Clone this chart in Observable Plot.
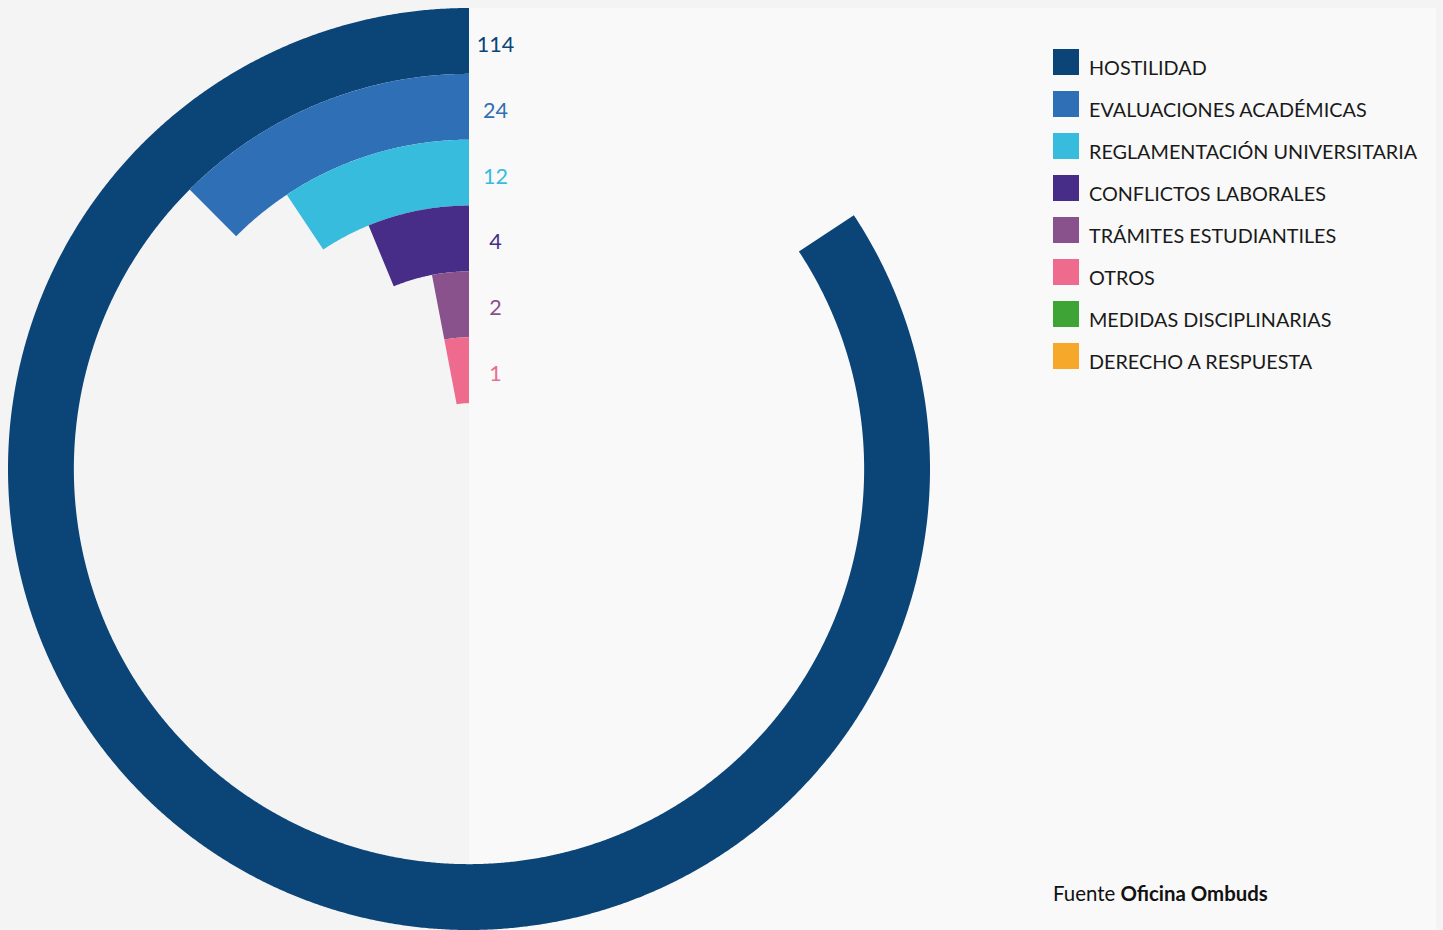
<!DOCTYPE html>
<html>
<head>
<meta charset="utf-8">
<script src="https://cdn.jsdelivr.net/npm/d3@7"></script>
<script src="https://cdn.jsdelivr.net/npm/@observablehq/plot@0.6"></script>
<style>
  html, body { margin: 0; padding: 0; width: 1443px; height: 930px; overflow: hidden; background: #f4f4f4; font-family: Lato, "Noto Sans", sans-serif; }
  #panel { position: absolute; left: 469px; top: 8px; width: 967px; height: 922px; background: #f9f9f9; }
  #chart { position: absolute; left: 8px; top: 8px; }
  #side { position: absolute; left: 1040px; top: 0px; }
</style>
</head>
<body>
<div id="panel"></div>
<div id="chart"></div>
<div id="side"></div>
<script>
// ---- data ----
const categories = ["HOSTILIDAD", "EVALUACIONES ACADÉMICAS", "REGLAMENTACIÓN UNIVERSITARIA", "CONFLICTOS LABORALES", "TRÁMITES ESTUDIANTILES", "OTROS", "MEDIDAS DISCIPLINARIAS", "DERECHO A RESPUESTA"];
const values = [114, 24, 12, 4, 2, 1, 0, 0];
// arc extent of each bar as drawn in the original (degrees, counter-clockwise from 12 o'clock)
const sweepDegrees = [303.4, 45, 33.6, 22.4, 10.8, 10.8, 0, 0];
const colors = ["#0b4477", "#2f6fb5", "#38bcdd", "#472d87", "#8a528c", "#ee6b8e", "#3ea436", "#f5a82a"];
const sourceLabel = "Fuente";
const sourceName = "Oficina Ombuds";

// ---- geometry built from data ----
const R = 461;
const drawn = categories.filter((c, i) => values[i] > 0);
const radius = d3.scaleBand().domain(drawn).range([R, R / 7]);
const bw = radius.bandwidth();

const arcPoints = [];
const labels = [];
drawn.forEach(c => {
  const i = categories.indexOf(c);
  const r0 = radius(c), r1 = r0 + bw;
  const n = Math.max(2, Math.ceil(sweepDegrees[i] / 0.25));
  for (let k = 0; k <= n; k++) {
    const a = (sweepDegrees[i] * k / n) * Math.PI / 180;
    arcPoints.push({cat: c, x1: -r0 * Math.sin(a), y1: r0 * Math.cos(a), x2: -r1 * Math.sin(a), y2: r1 * Math.cos(a)});
  }
  labels.push({cat: c, value: values[i], r: r0 + bw / 2});
});

const chart = Plot.plot({
  width: 2 * R,
  height: 2 * R,
  margin: 0,
  x: {domain: [-R, R], axis: null},
  y: {domain: [-R, R], axis: null},
  color: {domain: categories, range: colors, legend: false},
  style: {background: "transparent", fontFamily: "Lato, 'Noto Sans', sans-serif", overflow: "visible"},
  marks: [
    Plot.area(arcPoints, {x1: "x1", y1: "y1", x2: "x2", y2: "y2", fill: "cat", z: "cat"}),
    Plot.text(labels, {x: () => 0, y: "r", text: d => String(d.value), fill: "cat", dx: 26, dy: 3.5, fontSize: 21.5, textAnchor: "middle", letterSpacing: "-0.5px"})
  ]
});
document.getElementById("chart").appendChild(chart);

// ---- legend and source ----
const side = d3.select("#side").append("svg")
  .attr("width", 403).attr("height", 930)
  .style("font-family", "Lato, 'Noto Sans', sans-serif");
const items = side.selectAll("g.item").data(categories).join("g")
  .attr("class", "item")
  .attr("transform", (d, i) => `translate(13,${49 + 42 * i})`);
items.append("rect").attr("width", 26).attr("height", 26).attr("fill", (d, i) => colors[i]);
items.append("text").attr("x", 36).attr("y", 26).attr("font-size", 19.8).attr("fill", "#1a1a1a").text(d => d);
const src = side.append("text").attr("x", 13).attr("y", 901).attr("font-size", 20.4).attr("fill", "#111");
src.append("tspan").text(sourceLabel + " ");
src.append("tspan").attr("font-weight", "bold").text(sourceName);
</script>
</body>
</html>
